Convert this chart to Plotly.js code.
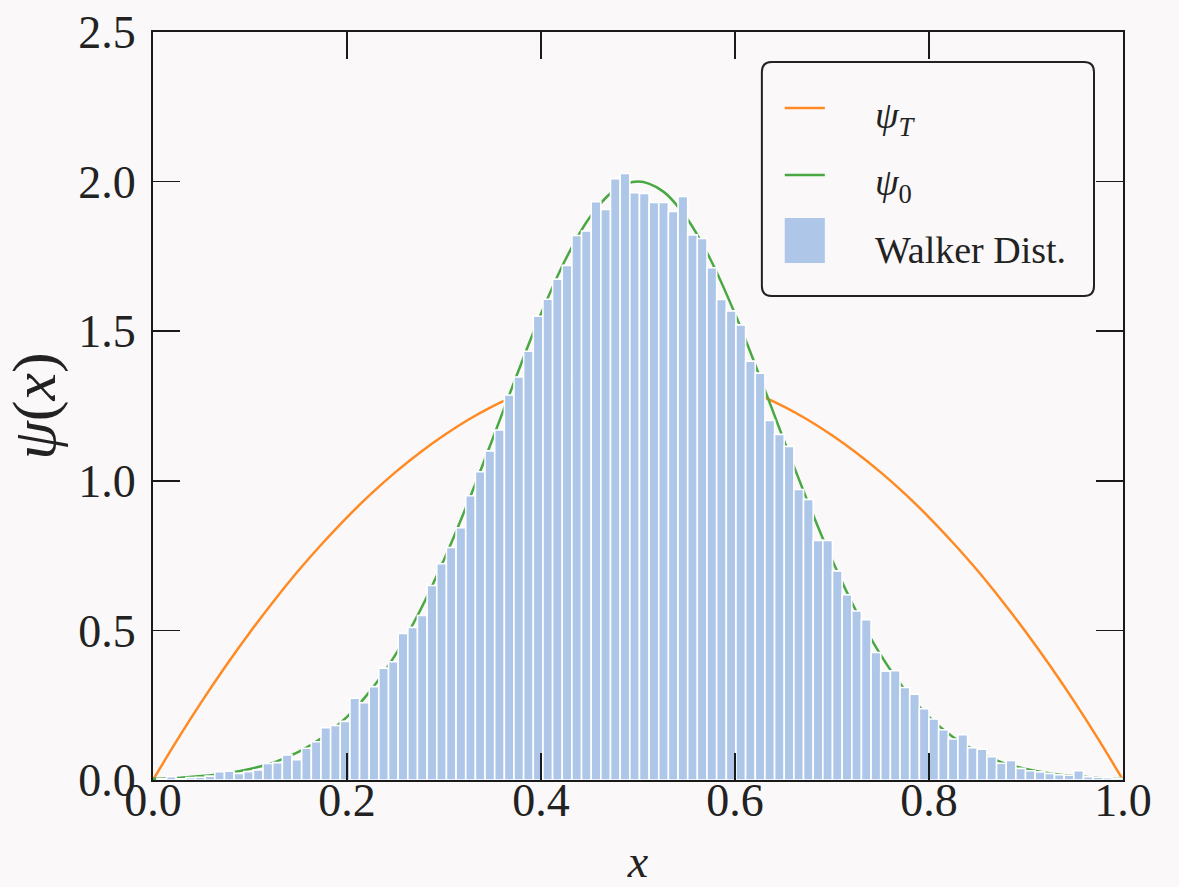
<!DOCTYPE html>
<html>
<head>
<meta charset="utf-8">
<script src="https://cdn.plot.ly/plotly-3.0.1.min.js"></script>
<style>
  html, body { margin: 0; padding: 0; background: #faf8f9; }
  #chart { width: 1179px; height: 887px; }
</style>
</head>
<body>
<div id="chart"></div>
<script>
// ---- data ----
const curveX = [0, 0.025, 0.05, 0.075, 0.1, 0.125, 0.15, 0.175, 0.2, 0.225, 0.25, 0.275, 0.3, 0.325, 0.35, 0.375, 0.4, 0.425, 0.45, 0.475, 0.5,
                0.525, 0.55, 0.575, 0.6, 0.625, 0.65, 0.675, 0.7, 0.725, 0.75, 0.775, 0.8, 0.825, 0.85, 0.875, 0.9, 0.925, 0.95, 0.975, 1.0];
const psiT = [0, 0.134, 0.261, 0.381, 0.494, 0.600, 0.700, 0.792, 0.878, 0.957, 1.029, 1.094, 1.152, 1.204, 1.249, 1.286, 1.317, 1.341, 1.358, 1.369, 1.372,
              1.369, 1.358, 1.341, 1.317, 1.286, 1.249, 1.204, 1.152, 1.094, 1.029, 0.957, 0.878, 0.792, 0.700, 0.600, 0.494, 0.381, 0.261, 0.134, 0];
const psi0 = [0.004, 0.007, 0.013, 0.022, 0.037, 0.059, 0.094, 0.143, 0.211, 0.302, 0.419, 0.564, 0.736, 0.930, 1.139, 1.353, 1.558, 1.738, 1.879, 1.969, 2.000,
              1.969, 1.879, 1.738, 1.558, 1.353, 1.139, 0.930, 0.736, 0.564, 0.419, 0.302, 0.211, 0.143, 0.094, 0.059, 0.037, 0.022, 0.013, 0.007, 0.004];

// histogram: 100 bins starting at binStart, width binWidth
const binStart = 0.004;
const binWidth = 0.00995;
const walkerHeights = [
  0.004, 0.011, 0.004, 0.008, 0.009, 0.013, 0.028, 0.029, 0.022, 0.028,
  0.034, 0.055, 0.058, 0.084, 0.068, 0.106, 0.128, 0.175, 0.182, 0.196,
  0.273, 0.258, 0.312, 0.374, 0.395, 0.490, 0.510, 0.550, 0.650, 0.723,
  0.777, 0.843, 0.950, 1.030, 1.100, 1.170, 1.287, 1.347, 1.433, 1.550,
  1.607, 1.674, 1.720, 1.820, 1.835, 1.933, 1.907, 2.010, 2.027, 1.963,
  1.960, 1.930, 1.930, 1.900, 1.950, 1.822, 1.810, 1.712, 1.606, 1.568,
  1.521, 1.400, 1.360, 1.202, 1.155, 1.115, 0.971, 0.938, 0.801, 0.801,
  0.699, 0.619, 0.565, 0.536, 0.426, 0.364, 0.365, 0.309, 0.287, 0.238,
  0.204, 0.168, 0.137, 0.151, 0.108, 0.103, 0.078, 0.056, 0.065, 0.039,
  0.031, 0.027, 0.022, 0.018, 0.016, 0.031, 0.011, 0.009, 0.008, 0.006
];
const xTicks = [0, 0.2, 0.4, 0.6, 0.8, 1.0];
const yTicks = [0, 0.5, 1.0, 1.5, 2.0, 2.5];
const legendNames = ['<i>ψ</i><sub><i>T</i></sub>', '<i>ψ</i><sub>0</sub>', 'Walker Dist.'];

// ---- styles ----
const BG = '#faf8f9';
const ORANGE = '#ff8a24';
const GREEN = '#4aa843';
const BLUE = '#aec7e8';
const AXC = '#1a1a1a';
const TXT = '#222222';
const FONT = 'Liberation Serif, DejaVu Serif, serif';

const binCenters = walkerHeights.map((_, i) => binStart + binWidth * (i + 0.5));

const traces = [
  { x: curveX, y: psiT, type: 'scatter', mode: 'lines', name: legendNames[0],
    line: { color: ORANGE, width: 2.5, shape: 'spline' }, xaxis: 'x', yaxis: 'y' },
  { x: curveX, y: psi0, type: 'scatter', mode: 'lines', name: legendNames[1],
    line: { color: GREEN, width: 2.5, shape: 'spline' }, xaxis: 'x', yaxis: 'y' },
  { x: binCenters, y: walkerHeights, type: 'bar', name: legendNames[2], width: binWidth,
    marker: { color: BLUE, line: { color: '#ffffff', width: 1.6 } }, xaxis: 'x2', yaxis: 'y2' }
];

const axisCommon = {
  showgrid: false, zeroline: false, showline: true, linecolor: AXC, linewidth: 2,
  mirror: 'ticks', ticks: 'inside', ticklen: 27, tickwidth: 1.6, tickcolor: AXC,
  tickfont: { family: FONT, size: 46, color: TXT }, tickformat: '.1f'
};

// legend box geometry in paper units
const lx0 = 0.6277, lx1 = 0.9701, ly0 = 0.6471, ly1 = 0.9599, rx = 0.0103, ry = 0.0134;
const boxPath = `M${lx0+rx},${ly1} L${lx1-rx},${ly1} Q${lx1},${ly1} ${lx1},${ly1-ry} L${lx1},${ly0+ry} Q${lx1},${ly0} ${lx1-rx},${ly0} ` +
                `L${lx0+rx},${ly0} Q${lx0},${ly0} ${lx0},${ly0+ry} L${lx0},${ly1-ry} Q${lx0},${ly1} ${lx0+rx},${ly1} Z`;

const layout = {
  width: 1179, height: 887,
  paper_bgcolor: BG, plot_bgcolor: BG,
  margin: { l: 153, r: 56, t: 32, b: 107 },
  showlegend: false,
  bargap: 0,
  xaxis: Object.assign({}, axisCommon, {
    range: [0, 1], tickvals: xTicks, ticklabelstandoff: -21,
    title: { text: '<i>x</i>', font: { family: FONT, size: 46, color: TXT }, standoff: 40 }
  }),
  yaxis: Object.assign({}, axisCommon, {
    range: [0, 2.5], tickvals: yTicks, ticklabelstandoff: 6,
    title: { text: '<i>ψ</i>(<i>x</i>)', font: { family: FONT, size: 62, color: TXT }, standoff: 6 }
  }),
  xaxis2: { overlaying: 'x', range: [0, 1], visible: false, showgrid: false, zeroline: false },
  yaxis2: { overlaying: 'y', range: [0, 2.5], visible: false, showgrid: false, zeroline: false },
  shapes: [
    { type: 'path', xref: 'paper', yref: 'paper', path: boxPath, fillcolor: BG, line: { color: '#222', width: 2 }, layer: 'above' },
    { type: 'line', xref: 'paper', yref: 'paper', x0: 0.6513, x1: 0.6926, y0: 0.8984, y1: 0.8984, line: { color: ORANGE, width: 2.5 }, layer: 'above' },
    { type: 'line', xref: 'paper', yref: 'paper', x0: 0.6513, x1: 0.6926, y0: 0.8088, y1: 0.8088, line: { color: GREEN, width: 2.5 }, layer: 'above' },
    { type: 'rect', xref: 'paper', yref: 'paper', x0: 0.6513, x1: 0.6926, y0: 0.6912, y1: 0.7513, fillcolor: BLUE, line: { width: 0 }, layer: 'above' }
  ],
  annotations: [
    { xref: 'paper', yref: 'paper', x: 0.7421, y: 0.885, xanchor: 'left', yanchor: 'middle', showarrow: false,
      text: legendNames[0], font: { family: FONT, size: 38, color: TXT } },
    { xref: 'paper', yref: 'paper', x: 0.7421, y: 0.7955, xanchor: 'left', yanchor: 'middle', showarrow: false,
      text: legendNames[1], font: { family: FONT, size: 38, color: TXT } },
    { xref: 'paper', yref: 'paper', x: 0.7421, y: 0.7086, xanchor: 'left', yanchor: 'middle', showarrow: false,
      text: legendNames[2], font: { family: FONT, size: 38, color: TXT } }
  ]
};

Plotly.newPlot('chart', traces, layout, { staticPlot: true, displayModeBar: false });
</script>
</body>
</html>
